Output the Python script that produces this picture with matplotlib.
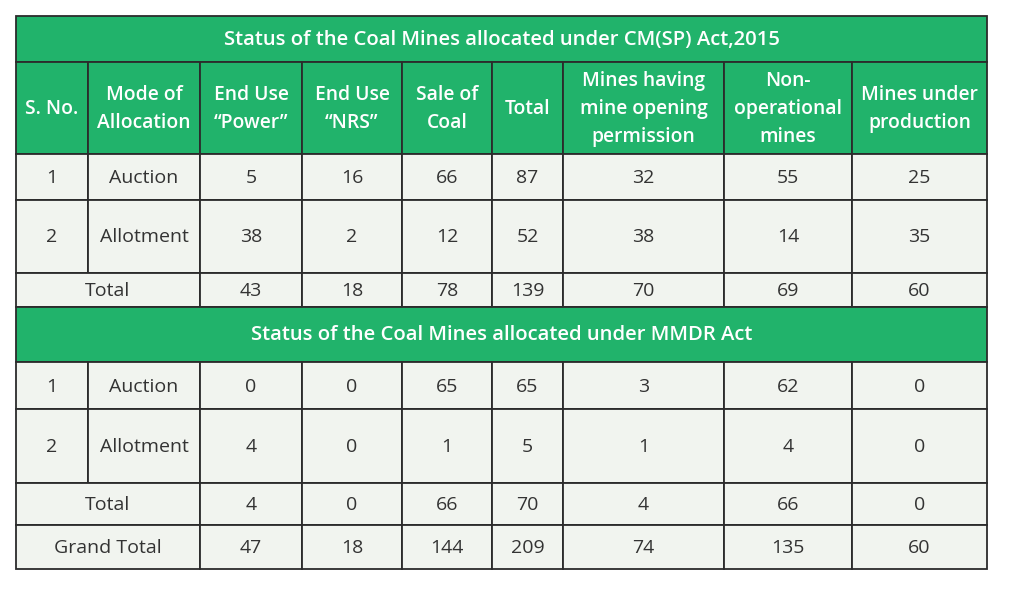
import matplotlib.pyplot as plt
from matplotlib.patches import Rectangle

plt.rcParams['font.family'] = ['Open Sans', 'DejaVu Sans']

# table contents
title_1 = 'Status of the Coal Mines allocated under CM(SP) Act,2015'
title_2 = 'Status of the Coal Mines allocated under MMDR Act'
headers = ['S. No.', 'Mode of\nAllocation', 'End Use\n\u201cPower\u201d', 'End Use\n\u201cNRS\u201d',
           'Sale of\nCoal', 'Total', 'Mines having\nmine opening\npermission',
           'Non-\noperational\nmines', 'Mines under\nproduction']
cm_rows = [['1', 'Auction', 5, 16, 66, 87, 32, 55, 25],
           ['2', 'Allotment', 38, 2, 12, 52, 38, 14, 35]]
cm_total = ['Total', 43, 18, 78, 139, 70, 69, 60]
mmdr_rows = [['1', 'Auction', 0, 0, 65, 65, 3, 62, 0],
             ['2', 'Allotment', 4, 0, 1, 5, 1, 4, 0]]
mmdr_total = ['Total', 4, 0, 66, 70, 4, 66, 0]
grand_total = ['Grand Total', 47, 18, 144, 209, 74, 135, 60]

# layout (pixels)
col_x = [16, 88, 200, 302, 402, 492, 563, 724, 852, 987]
green = '#21b36b'
light = '#f1f4ef'
edge = '#2b2b2b'
txt = '#333333'

fig = plt.figure(figsize=(10.12, 5.89), dpi=100)
ax = fig.add_axes([0, 0, 1, 1])
ax.set_xlim(0, 1012)
ax.set_ylim(589, 0)
ax.axis('off')


def cell(x0, x1, y0, y1, label, fill, color, weight='normal', size=14):
    ax.add_patch(Rectangle((x0, y0), x1 - x0, y1 - y0, facecolor=fill,
                           edgecolor=edge, linewidth=1.3))
    ax.text((x0 + x1) / 2, (y0 + y1) / 2 + 1, str(label), ha='center', va='center',
            color=color, fontsize=size, fontweight=weight, linespacing=1.55)


def body_row(values, y0, y1):
    for i, v in enumerate(values):
        cell(col_x[i], col_x[i + 1], y0, y1, v, light, txt)


def total_row(values, y0, y1):
    cell(col_x[0], col_x[2], y0, y1, values[0], light, txt)
    for i, v in enumerate(values[1:]):
        cell(col_x[i + 2], col_x[i + 3], y0, y1, v, light, txt)


cell(col_x[0], col_x[-1], 16, 62, title_1, green, 'white', 'semibold', 14.6)
for i, h in enumerate(headers):
    cell(col_x[i], col_x[i + 1], 62, 154, h, green, 'white', 'semibold', 13.9)
body_row(cm_rows[0], 154, 200)
body_row(cm_rows[1], 200, 273)
total_row(cm_total, 273, 307)

cell(col_x[0], col_x[-1], 307, 362, title_2, green, 'white', 'semibold', 14.6)
body_row(mmdr_rows[0], 362, 409)
body_row(mmdr_rows[1], 409, 483)
total_row(mmdr_total, 483, 525)
total_row(grand_total, 525, 569)

fig.savefig('out.png', dpi=100, facecolor='white')
